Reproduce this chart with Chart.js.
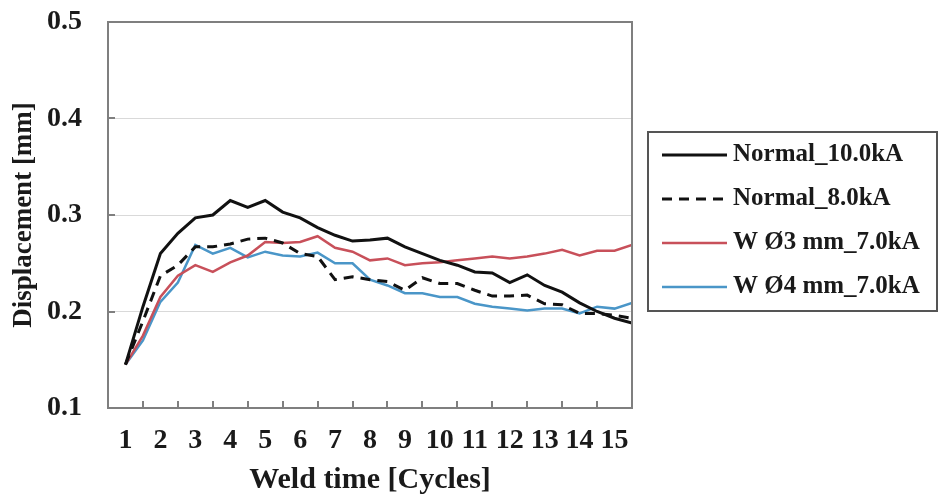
<!DOCTYPE html>
<html>
<head>
<meta charset="utf-8">
<script src="https://cdn.jsdelivr.net/npm/chart.js@4.4.0/dist/chart.umd.min.js"></script>
<style>
html, body { margin: 0; padding: 0; background: #fff; }
#wrap { width: 940px; height: 501px; position: relative; }
</style>
</head>
<body>
<div id="wrap"><canvas id="weld_chart"></canvas></div>
<script>
// weld time in cycles (half-cycle samples)
const cycles = [1, 1.5, 2, 2.5, 3, 3.5, 4, 4.5, 5, 5.5, 6, 6.5, 7, 7.5, 8,
  8.5, 9, 9.5, 10, 10.5, 11, 11.5, 12, 12.5, 13, 13.5, 14, 14.5, 15, 15.5];

// electrode displacement [mm]
const normal_10 = [0.145, 0.205, 0.26, 0.281, 0.297, 0.300, 0.315, 0.308, 0.315, 0.303,
  0.297, 0.287, 0.279, 0.273, 0.274, 0.276, 0.267, 0.260, 0.253, 0.248,
  0.241, 0.240, 0.230, 0.238, 0.227, 0.220, 0.209, 0.200, 0.193, 0.188];
const normal_8 = [0.145, 0.19, 0.237, 0.248, 0.267, 0.267, 0.270, 0.275, 0.276, 0.271,
  0.260, 0.257, 0.233, 0.236, 0.233, 0.231, 0.222, 0.235, 0.229, 0.229,
  0.222, 0.216, 0.216, 0.217, 0.208, 0.207, 0.198, 0.198, 0.196, 0.193];
const w3_7 = [0.145, 0.175, 0.215, 0.237, 0.248, 0.241, 0.251, 0.258, 0.272, 0.271,
  0.272, 0.278, 0.266, 0.262, 0.253, 0.255, 0.248, 0.250, 0.251, 0.253,
  0.255, 0.257, 0.255, 0.257, 0.260, 0.264, 0.258, 0.263, 0.263, 0.269];
const w4_7 = [0.145, 0.17, 0.21, 0.23, 0.269, 0.260, 0.266, 0.256, 0.262, 0.258,
  0.257, 0.261, 0.250, 0.250, 0.233, 0.227, 0.219, 0.219, 0.215, 0.215,
  0.208, 0.205, 0.203, 0.201, 0.203, 0.203, 0.198, 0.205, 0.203, 0.209];

const series_names = ["Normal_10.0kA", "Normal_8.0kA", "W \u00d83 mm_7.0kA", "W \u00d84 mm_7.0kA"];
const y_ticks = [0.1, 0.2, 0.3, 0.4, 0.5];

const serif = "'Liberation Serif', 'Times New Roman', serif";
const frame_color = "#7f7f7f";

function toPoints(vals) {
  return vals.map((v, i) => ({ x: cycles[i], y: v }));
}

// box frame + small inward tick marks
const frameTicks = {
  id: "frameTicks",
  afterDraw(chart) {
    const { ctx, chartArea: a, scales: { x, y } } = chart;
    ctx.save();
    ctx.strokeStyle = frame_color;
    ctx.lineWidth = 2;
    ctx.beginPath();
    for (let c = 1.5; c < 15.5; c += 1) {
      const px = Math.round(x.getPixelForValue(c));
      ctx.moveTo(px, a.bottom);
      ctx.lineTo(px, a.bottom - 7);
    }
    y_ticks.forEach(v => {
      const py = Math.round(y.getPixelForValue(v));
      ctx.moveTo(a.left, py);
      ctx.lineTo(a.left + 7, py);
    });
    ctx.stroke();
    ctx.strokeRect(a.left, a.top, a.right - a.left, a.bottom - a.top);
    ctx.restore();
  }
};

// boxed legend to the right of the plot
const boxLegend = {
  id: "boxLegend",
  afterDraw(chart) {
    const ctx = chart.ctx;
    const left = 648, top = 132, w = 289, h = 179;
    ctx.save();
    ctx.strokeStyle = "#555";
    ctx.lineWidth = 2;
    ctx.strokeRect(left, top, w, h);
    ctx.font = "bold 25px " + serif;
    ctx.textBaseline = "middle";
    ctx.fillStyle = "#1a1a1a";
    chart.data.datasets.forEach((ds, i) => {
      const cy = 155 + i * 44;
      ctx.strokeStyle = ds.borderColor;
      ctx.lineWidth = ds.borderWidth;
      ctx.setLineDash(ds.borderDash || []);
      ctx.beginPath();
      ctx.moveTo(662, cy);
      ctx.lineTo(727, cy);
      ctx.stroke();
      ctx.setLineDash([]);
      ctx.fillText(ds.label, 733, cy);
    });
    ctx.restore();
  }
};

const ctx = document.getElementById("weld_chart").getContext("2d");

new Chart(ctx, {
  type: "line",
  data: {
    datasets: [
      {
        label: series_names[0],
        data: toPoints(normal_10),
        borderColor: "#111111",
        borderWidth: 3,
      },
      {
        label: series_names[1],
        data: toPoints(normal_8),
        borderColor: "#111111",
        borderWidth: 3,
        borderDash: [10, 7],
      },
      {
        label: series_names[2],
        data: toPoints(w3_7),
        borderColor: "#c8505a",
        borderWidth: 2.5,
      },
      {
        label: series_names[3],
        data: toPoints(w4_7),
        borderColor: "#4a96c8",
        borderWidth: 2.5,
      },
    ],
  },
  options: {
    responsive: true,
    maintainAspectRatio: false,
    animation: false,
    devicePixelRatio: 1,
    elements: {
      point: { radius: 0 },
      line: { tension: 0, fill: false },
    },
    layout: { padding: { left: 0, top: 22, right: 308, bottom: 0 } },
    plugins: {
      legend: { display: false },
      tooltip: { enabled: false },
    },
    scales: {
      x: {
        type: "linear",
        min: 0.5,
        max: 15.5,
        afterFit: s => { s.height = 93; },
        afterBuildTicks: s => {
          s.ticks = cycles.filter(c => Number.isInteger(c)).map(c => ({ value: c }));
        },
        border: { display: false },
        grid: { display: false },
        ticks: {
          autoSkip: false,
          maxRotation: 0,
          padding: 8,
          color: "#1a1a1a",
          font: { family: serif, size: 28, weight: "bold" },
          callback: v => String(v),
        },
        title: {
          display: true,
          text: "Weld time [Cycles]",
          color: "#1a1a1a",
          font: { family: serif, size: 30, weight: "bold" },
          padding: { top: 0, bottom: 3 },
        },
      },
      y: {
        min: 0.1,
        max: 0.5,
        afterFit: s => {
          s.width = 108;
          s.paddingTop = 0;
          s.paddingBottom = 0;
        },
        afterBuildTicks: s => {
          s.ticks = y_ticks.map(v => ({ value: v }));
        },
        border: { display: false },
        grid: {
          drawTicks: false,
          lineWidth: 1,
          color: c => (c.tick && (c.tick.value > 0.15 && c.tick.value < 0.45)) ? "#d9d9d9" : "rgba(0,0,0,0)",
        },
        ticks: {
          padding: 26,
          color: "#1a1a1a",
          font: { family: serif, size: 28, weight: "bold" },
          callback: v => v.toFixed(1),
        },
        title: {
          display: true,
          text: "Displacement [mm]",
          color: "#1a1a1a",
          font: { family: serif, size: 27, weight: "bold" },
          padding: { top: 8, bottom: 0 },
        },
      },
    },
  },
  plugins: [frameTicks, boxLegend],
});
</script>
</body>
</html>
